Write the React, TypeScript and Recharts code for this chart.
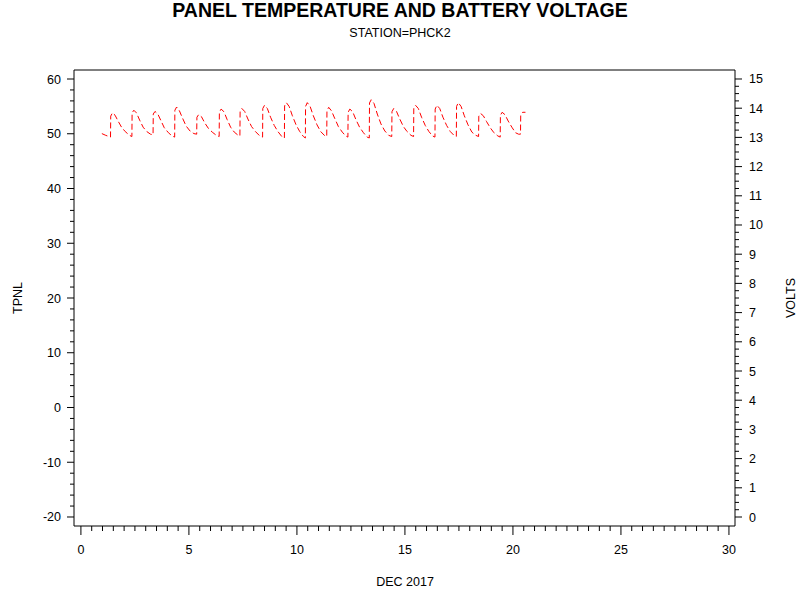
import React from "react";
import { LineChart, Line, XAxis, YAxis, ReferenceLine } from "recharts";

// Day of month (Dec 2017) for each battery-voltage sample
const dayTimes = [
  0.97, 1.15, 1.37,
  1.38, 1.46, 1.58, 1.72, 1.88, 2.05, 2.25, 2.36,
  2.37, 2.45, 2.57, 2.72, 2.88, 3.05, 3.22, 3.34,
  3.35, 3.43, 3.56, 3.7, 3.86, 4.05, 4.22, 4.34,
  4.35, 4.43, 4.56, 4.71, 4.87, 5.05, 5.23, 5.36,
  5.37, 5.45, 5.58, 5.73, 5.9, 6.08, 6.27, 6.4,
  6.41, 6.49, 6.62, 6.77, 6.93, 7.1, 7.25, 7.36,
  7.37, 7.45, 7.58, 7.73, 7.9, 8.08, 8.28, 8.41,
  8.42, 8.5, 8.63, 8.78, 8.95, 9.12, 9.3, 9.42,
  9.43, 9.51, 9.64, 9.79, 9.96, 10.13, 10.3, 10.39,
  10.4, 10.48, 10.61, 10.76, 10.93, 11.1, 11.27, 11.38,
  11.39, 11.47, 11.6, 11.75, 11.92, 12.1, 12.26, 12.36,
  12.37, 12.45, 12.58, 12.73, 12.9, 13.08, 13.25, 13.35,
  13.36, 13.44, 13.57, 13.72, 13.89, 14.07, 14.25, 14.39,
  14.4, 14.48, 14.61, 14.76, 14.93, 15.1, 15.28, 15.4,
  15.41, 15.49, 15.62, 15.77, 15.94, 16.11, 16.28, 16.39,
  16.4, 16.48, 16.61, 16.76, 16.93, 17.1, 17.27, 17.38,
  17.39, 17.47, 17.6, 17.75, 17.92, 18.1, 18.28, 18.41,
  18.42, 18.5, 18.63, 18.78, 18.95, 19.12, 19.3, 19.41,
  19.42, 19.5, 19.63, 19.78, 19.95, 20.12, 20.26, 20.35,
  20.36, 20.45, 20.58,
];

// Battery voltage (VOLTS) at each sample
const voltValues = [
  13.13, 13.07, 13.01,
  13.73, 13.84, 13.76, 13.56, 13.35, 13.2, 13.07, 13.03,
  13.84, 13.93, 13.84, 13.59, 13.35, 13.2, 13.11, 13.09,
  13.8, 13.89, 13.8, 13.58, 13.33, 13.16, 13.05, 13.01,
  13.93, 14.04, 13.91, 13.65, 13.39, 13.22, 13.13, 13.11,
  13.69, 13.78, 13.71, 13.5, 13.31, 13.18, 13.07, 13.03,
  13.86, 13.97, 13.88, 13.61, 13.35, 13.18, 13.09, 13.05,
  13.88, 13.99, 13.89, 13.63, 13.37, 13.2, 13.05, 13.01,
  13.99, 14.1, 13.99, 13.69, 13.41, 13.2, 13.03, 12.98,
  14.08, 14.19, 14.06, 13.74, 13.43, 13.2, 13.03, 12.98,
  14.06, 14.19, 14.06, 13.74, 13.43, 13.2, 13.07, 13.03,
  13.91, 14.03, 13.91, 13.65, 13.37, 13.18, 13.05, 13.01,
  13.86, 13.97, 13.88, 13.61, 13.35, 13.16, 13.01, 12.98,
  14.18, 14.29, 14.16, 13.8, 13.46, 13.22, 13.07, 13.03,
  13.88, 13.99, 13.89, 13.63, 13.37, 13.2, 13.07, 13.03,
  13.99, 14.1, 13.99, 13.69, 13.41, 13.2, 13.05, 13.01,
  13.97, 14.1, 13.99, 13.69, 13.41, 13.2, 13.07, 13.03,
  14.06, 14.19, 14.06, 13.74, 13.43, 13.18, 13.07, 13.03,
  13.73, 13.82, 13.74, 13.54, 13.33, 13.16, 13.05, 13.01,
  13.76, 13.86, 13.78, 13.56, 13.35, 13.16, 13.11, 13.11,
  13.76, 13.86, 13.86,
];

const xMajorTicks = [0, 5, 10, 15, 20, 25, 30];
const leftMajorTicks = [-20, -10, 0, 10, 20, 30, 40, 50, 60];
const rightMajorTicks = [0, 1, 2, 3, 4, 5, 6, 7, 8, 9, 10, 11, 12, 13, 14, 15];

const TITLE = "PANEL TEMPERATURE AND BATTERY VOLTAGE";
const SUBTITLE = "STATION=PHCK2";
const X_LABEL = "DEC 2017";
const LEFT_LABEL = "TPNL";
const RIGHT_LABEL = "VOLTS";

const data = dayTimes.map((d, i) => ({ day: d, volts: voltValues[i] }));

function withMinors(majors: number[], sub: number): number[] {
  const out: number[] = [];
  for (let i = 0; i < majors.length; i++) {
    out.push(majors[i]);
    if (i < majors.length - 1) {
      const step = (majors[i + 1] - majors[i]) / sub;
      for (let k = 1; k < sub; k++) out.push(majors[i] + step * k);
    }
  }
  return out;
}

const xTicks = withMinors(xMajorTicks, 10);
const leftTicks = withMinors(leftMajorTicks, 5);
const rightTicks = withMinors(rightMajorTicks, 4);

const FONT = "'Liberation Sans', Arial, Helvetica, sans-serif";
const TICK_FS = 12.5;

const isMajor = (v: number, majors: number[]) =>
  majors.some((m) => Math.abs(m - v) < 1e-6);

const LeftTick = (props: any) => {
  const { x, y, payload } = props;
  const v = payload.value;
  const major = isMajor(v, leftMajorTicks);
  return (
    <g>
      <line x1={x - (major ? 7 : 4)} x2={x} y1={y} y2={y} stroke="#000" strokeWidth={1} />
      {major && (
        <text x={x - 13} y={y + 4.5} textAnchor="end" fontSize={TICK_FS} fontFamily={FONT} fill="#000">
          {v}
        </text>
      )}
    </g>
  );
};

const RightTick = (props: any) => {
  const { x, y, payload } = props;
  const v = payload.value;
  const major = isMajor(v, rightMajorTicks);
  return (
    <g>
      <line x1={x} x2={x + (major ? 7 : 4)} y1={y} y2={y} stroke="#000" strokeWidth={1} />
      {major && (
        <text x={x + 14} y={y + 4.5} textAnchor="start" fontSize={TICK_FS} fontFamily={FONT} fill="#000">
          {v}
        </text>
      )}
    </g>
  );
};

const BottomTick = (props: any) => {
  const { x, y, payload } = props;
  const v = payload.value;
  const major = isMajor(v, xMajorTicks);
  return (
    <g>
      <line x1={x} x2={x} y1={y} y2={y + (major ? 9 : 5)} stroke="#000" strokeWidth={1} />
      {major && (
        <text x={x} y={y + 28} textAnchor="middle" fontSize={TICK_FS} fontFamily={FONT} fill="#000">
          {v}
        </text>
      )}
    </g>
  );
};

const X_DOMAIN: [number, number] = [-0.32, 30.28];
const LEFT_DOMAIN: [number, number] = [-21.644, 61.644];
const RIGHT_DOMAIN: [number, number] = [-0.308, 15.308];

export default function App() {
  return (
    <div style={{ position: "absolute", left: 0, top: 0, width: 800, height: 600, background: "#fff" }}>
      <LineChart
        width={800}
        height={600}
        data={data}
        margin={{ top: 70, right: 15, bottom: 34, left: 14 }}
      >
        <XAxis
          xAxisId="bottom"
          dataKey="day"
          type="number"
          domain={X_DOMAIN}
          ticks={xTicks}
          interval={0}
          height={40}
          tickSize={0}
          tickMargin={0}
          tickLine={false}
          axisLine={{ stroke: "#000", strokeWidth: 1 }}
          tick={<BottomTick />}
          allowDataOverflow
        />
        <YAxis
          yAxisId="left"
          orientation="left"
          type="number"
          domain={LEFT_DOMAIN}
          ticks={leftTicks}
          interval={0}
          width={60}
          tickSize={0}
          tickMargin={0}
          tickLine={false}
          axisLine={{ stroke: "#000", strokeWidth: 1 }}
          tick={<LeftTick />}
          allowDataOverflow
        />
        <YAxis
          yAxisId="right"
          orientation="right"
          type="number"
          domain={RIGHT_DOMAIN}
          ticks={rightTicks}
          interval={0}
          width={50}
          tickSize={0}
          tickMargin={0}
          tickLine={false}
          axisLine={{ stroke: "#000", strokeWidth: 1 }}
          tick={<RightTick />}
          allowDataOverflow
        />
        <ReferenceLine
          xAxisId="bottom"
          yAxisId="left"
          y={LEFT_DOMAIN[1]}
          stroke="#000"
          strokeWidth={1}
          ifOverflow="extendDomain"
        />
        <Line
          xAxisId="bottom"
          yAxisId="right"
          type="linear"
          dataKey="volts"
          stroke="#ff0000"
          strokeWidth={1}
          strokeDasharray="6 3"
          dot={false}
          activeDot={false}
          isAnimationActive={false}
        />
      </LineChart>
      <svg
        width={800}
        height={600}
        style={{ position: "absolute", left: 0, top: 0, pointerEvents: "none" }}
      >
        <text x={400} y={17} textAnchor="middle" fontSize={19.5} fontWeight="bold" fontFamily={FONT} fill="#000">
          {TITLE}
        </text>
        <text x={400} y={37} textAnchor="middle" fontSize={12.5} fontFamily={FONT} fill="#000">
          {SUBTITLE}
        </text>
        <text x={405} y={586} textAnchor="middle" fontSize={12.5} fontFamily={FONT} fill="#000">
          {X_LABEL}
        </text>
        <text
          x={0}
          y={0}
          transform="translate(22,298) rotate(-90)"
          textAnchor="middle"
          fontSize={12.5}
          fontFamily={FONT}
          fill="#000"
        >
          {LEFT_LABEL}
        </text>
        <text
          x={0}
          y={0}
          transform="translate(795,298) rotate(-90)"
          textAnchor="middle"
          fontSize={12.5}
          fontFamily={FONT}
          fill="#000"
        >
          {RIGHT_LABEL}
        </text>
      </svg>
    </div>
  );
}
